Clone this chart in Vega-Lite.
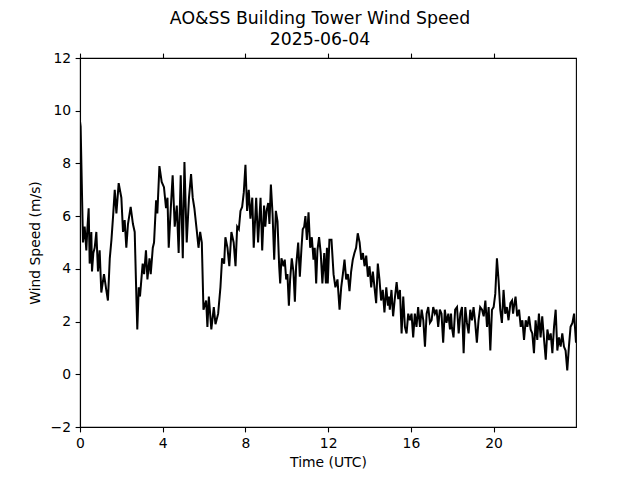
{
  "$schema": "https://vega.github.io/schema/vega-lite/v6.json",
  "width": 496,
  "height": 369,
  "autosize": {"type": "none"},
  "padding": {"left": 80, "top": 58, "right": 64, "bottom": 53},
  "background": "white",
  "config": {
    "font": "DejaVu Sans",
    "view": {"stroke": "black", "strokeWidth": 1.1},
    "axis": {
      "grid": false,
      "domainColor": "black",
      "domainWidth": 1.1,
      "tickColor": "black",
      "tickWidth": 1.1,
      "tickSize": 4.9,
      "labelPadding": 4.5,
      "labelFontSize": 13.9,
      "labelColor": "black",
      "labelFont": "DejaVu Sans",
      "titleFont": "DejaVu Sans",
      "titleFontSize": 13.9,
      "titleFontWeight": "normal",
      "titleColor": "black"
    }
  },
  "title": {
    "text": ["AO&SS Building Tower Wind Speed", "2025-06-04"],
    "font": "DejaVu Sans",
    "fontSize": 17.3,
    "fontWeight": "normal",
    "color": "black",
    "anchor": "middle",
    "dx": -8,
    "lineHeight": 20.5,
    "offset": 3
  },
  "data": {
    "values": [
      {"t": 0.0, "v": 9.6}, {"t": 0.03, "v": 9.4}, {"t": 0.145, "v": 5.0}, {"t": 0.226, "v": 5.6}, {"t": 0.306, "v": 4.7},
      {"t": 0.355, "v": 5.5}, {"t": 0.419, "v": 6.3}, {"t": 0.468, "v": 4.2}, {"t": 0.548, "v": 5.4}, {"t": 0.58, "v": 3.9},
      {"t": 0.645, "v": 4.6}, {"t": 0.71, "v": 4.8}, {"t": 0.79, "v": 5.4}, {"t": 0.87, "v": 3.9}, {"t": 0.95, "v": 4.7},
      {"t": 1.03, "v": 3.1}, {"t": 1.16, "v": 3.8}, {"t": 1.27, "v": 3.2}, {"t": 1.35, "v": 2.8}, {"t": 1.44, "v": 4.4},
      {"t": 1.52, "v": 5.1}, {"t": 1.6, "v": 6.0}, {"t": 1.68, "v": 7.0}, {"t": 1.76, "v": 6.1}, {"t": 1.87, "v": 7.25},
      {"t": 2.0, "v": 6.7}, {"t": 2.08, "v": 5.4}, {"t": 2.16, "v": 5.85}, {"t": 2.24, "v": 4.8}, {"t": 2.32, "v": 5.7},
      {"t": 2.45, "v": 6.35}, {"t": 2.56, "v": 5.7}, {"t": 2.645, "v": 5.4}, {"t": 2.73, "v": 2.8}, {"t": 2.77, "v": 1.7},
      {"t": 2.84, "v": 3.3}, {"t": 2.9, "v": 2.95}, {"t": 3.03, "v": 4.2}, {"t": 3.1, "v": 3.8}, {"t": 3.19, "v": 4.7},
      {"t": 3.26, "v": 3.6}, {"t": 3.36, "v": 4.4}, {"t": 3.42, "v": 3.8}, {"t": 3.52, "v": 4.8}, {"t": 3.58, "v": 5.0},
      {"t": 3.68, "v": 6.6}, {"t": 3.74, "v": 6.1}, {"t": 3.84, "v": 7.9}, {"t": 3.95, "v": 7.3}, {"t": 4.06, "v": 7.1},
      {"t": 4.16, "v": 6.3}, {"t": 4.23, "v": 6.7}, {"t": 4.29, "v": 4.8}, {"t": 4.39, "v": 6.3}, {"t": 4.48, "v": 7.55},
      {"t": 4.58, "v": 5.6}, {"t": 4.68, "v": 6.4}, {"t": 4.77, "v": 4.6}, {"t": 4.87, "v": 7.55}, {"t": 4.97, "v": 4.4},
      {"t": 5.05, "v": 8.05}, {"t": 5.16, "v": 5.0}, {"t": 5.27, "v": 6.7}, {"t": 5.37, "v": 7.6}, {"t": 5.45, "v": 6.7},
      {"t": 5.53, "v": 6.3}, {"t": 5.64, "v": 5.5}, {"t": 5.73, "v": 4.8}, {"t": 5.81, "v": 5.4}, {"t": 5.89, "v": 5.0},
      {"t": 5.97, "v": 2.45}, {"t": 6.1, "v": 2.8}, {"t": 6.16, "v": 1.8}, {"t": 6.23, "v": 2.95}, {"t": 6.35, "v": 1.7},
      {"t": 6.47, "v": 2.55}, {"t": 6.55, "v": 1.9}, {"t": 6.68, "v": 2.3}, {"t": 6.79, "v": 3.3}, {"t": 6.87, "v": 4.4},
      {"t": 6.97, "v": 4.2}, {"t": 7.03, "v": 5.2}, {"t": 7.13, "v": 4.8}, {"t": 7.22, "v": 4.1}, {"t": 7.32, "v": 5.4},
      {"t": 7.43, "v": 5.0}, {"t": 7.52, "v": 4.1}, {"t": 7.6, "v": 5.6}, {"t": 7.68, "v": 5.5}, {"t": 7.76, "v": 6.2},
      {"t": 7.84, "v": 6.35}, {"t": 7.92, "v": 6.9}, {"t": 8.0, "v": 7.95}, {"t": 8.08, "v": 6.2}, {"t": 8.16, "v": 7.0},
      {"t": 8.24, "v": 5.9}, {"t": 8.33, "v": 6.7}, {"t": 8.4, "v": 4.8}, {"t": 8.52, "v": 6.7}, {"t": 8.61, "v": 5.0},
      {"t": 8.73, "v": 6.7}, {"t": 8.81, "v": 4.7}, {"t": 8.9, "v": 6.4}, {"t": 8.96, "v": 5.6}, {"t": 9.02, "v": 6.2},
      {"t": 9.1, "v": 6.5}, {"t": 9.16, "v": 5.7}, {"t": 9.23, "v": 7.2}, {"t": 9.31, "v": 6.1}, {"t": 9.39, "v": 4.35},
      {"t": 9.47, "v": 6.2}, {"t": 9.55, "v": 5.8}, {"t": 9.63, "v": 4.1}, {"t": 9.68, "v": 3.45}, {"t": 9.74, "v": 4.4},
      {"t": 9.84, "v": 4.1}, {"t": 9.9, "v": 4.35}, {"t": 9.97, "v": 3.6}, {"t": 10.03, "v": 3.8}, {"t": 10.1, "v": 2.6},
      {"t": 10.16, "v": 3.6}, {"t": 10.24, "v": 4.4}, {"t": 10.32, "v": 3.9}, {"t": 10.39, "v": 2.75}, {"t": 10.45, "v": 4.1},
      {"t": 10.55, "v": 5.0}, {"t": 10.63, "v": 3.7}, {"t": 10.71, "v": 4.8}, {"t": 10.77, "v": 5.5}, {"t": 10.84, "v": 5.6},
      {"t": 10.9, "v": 6.0}, {"t": 10.97, "v": 5.1}, {"t": 11.05, "v": 6.15}, {"t": 11.13, "v": 4.8}, {"t": 11.21, "v": 5.2},
      {"t": 11.29, "v": 4.35}, {"t": 11.35, "v": 4.8}, {"t": 11.42, "v": 3.45}, {"t": 11.48, "v": 4.7}, {"t": 11.56, "v": 5.2},
      {"t": 11.64, "v": 4.6}, {"t": 11.72, "v": 3.45}, {"t": 11.81, "v": 4.6}, {"t": 11.89, "v": 3.45}, {"t": 11.94, "v": 4.8},
      {"t": 11.98, "v": 3.45}, {"t": 12.06, "v": 5.1}, {"t": 12.16, "v": 5.1}, {"t": 12.26, "v": 3.8}, {"t": 12.35, "v": 3.3},
      {"t": 12.45, "v": 3.6}, {"t": 12.55, "v": 2.45}, {"t": 12.63, "v": 3.3}, {"t": 12.71, "v": 3.8}, {"t": 12.79, "v": 4.35},
      {"t": 12.87, "v": 3.6}, {"t": 12.95, "v": 3.8}, {"t": 13.03, "v": 3.15}, {"t": 13.11, "v": 3.9}, {"t": 13.19, "v": 4.35},
      {"t": 13.27, "v": 4.6}, {"t": 13.35, "v": 4.8}, {"t": 13.43, "v": 5.35}, {"t": 13.52, "v": 5.0}, {"t": 13.6, "v": 4.35},
      {"t": 13.68, "v": 4.6}, {"t": 13.76, "v": 4.1}, {"t": 13.84, "v": 4.5}, {"t": 13.92, "v": 3.7}, {"t": 14.0, "v": 4.1},
      {"t": 14.08, "v": 3.3}, {"t": 14.16, "v": 3.9}, {"t": 14.24, "v": 3.3}, {"t": 14.32, "v": 2.7}, {"t": 14.4, "v": 4.2},
      {"t": 14.48, "v": 3.6}, {"t": 14.56, "v": 2.8}, {"t": 14.64, "v": 3.2}, {"t": 14.72, "v": 2.35}, {"t": 14.81, "v": 3.3},
      {"t": 14.89, "v": 2.6}, {"t": 14.94, "v": 2.95}, {"t": 14.98, "v": 2.45}, {"t": 15.06, "v": 3.2}, {"t": 15.14, "v": 2.2},
      {"t": 15.22, "v": 2.85}, {"t": 15.31, "v": 3.5}, {"t": 15.39, "v": 2.85}, {"t": 15.47, "v": 3.2}, {"t": 15.55, "v": 1.55},
      {"t": 15.63, "v": 2.95}, {"t": 15.71, "v": 1.8}, {"t": 15.79, "v": 1.55}, {"t": 15.87, "v": 2.3}, {"t": 15.95, "v": 2.05},
      {"t": 16.03, "v": 2.3}, {"t": 16.11, "v": 1.4}, {"t": 16.19, "v": 2.3}, {"t": 16.27, "v": 1.8}, {"t": 16.35, "v": 2.55},
      {"t": 16.44, "v": 1.8}, {"t": 16.52, "v": 2.45}, {"t": 16.6, "v": 2.05}, {"t": 16.68, "v": 1.05}, {"t": 16.76, "v": 2.3},
      {"t": 16.84, "v": 2.55}, {"t": 16.92, "v": 1.95}, {"t": 17.0, "v": 2.05}, {"t": 17.08, "v": 2.55}, {"t": 17.16, "v": 2.3},
      {"t": 17.24, "v": 2.45}, {"t": 17.32, "v": 1.8}, {"t": 17.4, "v": 2.45}, {"t": 17.48, "v": 2.3}, {"t": 17.56, "v": 1.2},
      {"t": 17.64, "v": 2.45}, {"t": 17.72, "v": 1.95}, {"t": 17.81, "v": 2.3}, {"t": 17.89, "v": 1.7}, {"t": 17.94, "v": 2.3},
      {"t": 17.98, "v": 1.8}, {"t": 18.06, "v": 1.4}, {"t": 18.14, "v": 2.45}, {"t": 18.23, "v": 2.55}, {"t": 18.31, "v": 1.55},
      {"t": 18.39, "v": 2.3}, {"t": 18.47, "v": 2.55}, {"t": 18.55, "v": 0.8}, {"t": 18.63, "v": 2.55}, {"t": 18.71, "v": 1.95},
      {"t": 18.79, "v": 1.55}, {"t": 18.87, "v": 2.45}, {"t": 18.95, "v": 2.05}, {"t": 19.03, "v": 2.55}, {"t": 19.11, "v": 1.95},
      {"t": 19.19, "v": 1.2}, {"t": 19.27, "v": 2.05}, {"t": 19.35, "v": 2.55}, {"t": 19.44, "v": 2.45}, {"t": 19.52, "v": 2.2},
      {"t": 19.6, "v": 2.8}, {"t": 19.68, "v": 1.8}, {"t": 19.76, "v": 2.55}, {"t": 19.84, "v": 0.9}, {"t": 19.92, "v": 2.45},
      {"t": 20.0, "v": 2.55}, {"t": 20.08, "v": 3.05}, {"t": 20.16, "v": 4.4}, {"t": 20.24, "v": 3.55}, {"t": 20.32, "v": 2.45},
      {"t": 20.4, "v": 1.95}, {"t": 20.48, "v": 3.2}, {"t": 20.56, "v": 2.3}, {"t": 20.64, "v": 2.55}, {"t": 20.72, "v": 2.05},
      {"t": 20.81, "v": 2.7}, {"t": 20.89, "v": 2.8}, {"t": 20.94, "v": 2.3}, {"t": 20.98, "v": 2.55}, {"t": 21.06, "v": 2.95},
      {"t": 21.14, "v": 2.2}, {"t": 21.23, "v": 2.45}, {"t": 21.31, "v": 1.8}, {"t": 21.39, "v": 2.05}, {"t": 21.47, "v": 1.3},
      {"t": 21.55, "v": 2.05}, {"t": 21.63, "v": 1.8}, {"t": 21.71, "v": 2.2}, {"t": 21.79, "v": 1.7}, {"t": 21.87, "v": 1.55},
      {"t": 21.95, "v": 0.8}, {"t": 22.03, "v": 2.05}, {"t": 22.11, "v": 1.3}, {"t": 22.19, "v": 2.3}, {"t": 22.27, "v": 1.4},
      {"t": 22.35, "v": 2.2}, {"t": 22.44, "v": 1.3}, {"t": 22.52, "v": 0.55}, {"t": 22.6, "v": 1.7}, {"t": 22.68, "v": 1.3},
      {"t": 22.76, "v": 1.55}, {"t": 22.84, "v": 0.8}, {"t": 22.92, "v": 1.8}, {"t": 23.0, "v": 2.45}, {"t": 23.08, "v": 0.9},
      {"t": 23.16, "v": 1.4}, {"t": 23.24, "v": 1.05}, {"t": 23.32, "v": 1.55}, {"t": 23.4, "v": 1.05}, {"t": 23.48, "v": 0.9},
      {"t": 23.56, "v": 0.15}, {"t": 23.64, "v": 1.05}, {"t": 23.72, "v": 1.8}, {"t": 23.81, "v": 1.95}, {"t": 23.89, "v": 2.3},
      {"t": 23.983, "v": 1.2}
    ]
  },
  "resolve": {"axis": {"x": "independent"}},
  "layer": [
    {
      "mark": {"type": "line", "color": "black", "strokeWidth": 2, "clip": true},
      "encoding": {
        "x": {
          "field": "t",
          "type": "quantitative",
          "scale": {"domain": [0, 23.983], "nice": false, "zero": false},
          "axis": {"orient": "bottom", "title": "Time (UTC)", "values": [0, 4, 8, 12, 16, 20], "titlePadding": 5, "labelFlush": false}
        },
        "y": {
          "field": "v",
          "type": "quantitative",
          "scale": {"domain": [-2, 12], "nice": false, "zero": false},
          "axis": {
            "title": "Wind Speed (m/s)",
            "values": [-2, 0, 2, 4, 6, 8, 10, 12],
            "labelExpr": "replace(datum.label, '-', '\u2212')",
            "titlePadding": 8,
            "labelFlush": false
          }
        }
      }
    },
    {
      "mark": {"type": "line", "opacity": 0, "clip": true},
      "encoding": {
        "x": {
          "field": "t",
          "type": "quantitative",
          "axis": {"orient": "top", "title": null, "labels": false, "values": [0, 4, 8, 12, 16, 20]}
        },
        "y": {"field": "v", "type": "quantitative"}
      }
    }
  ]
}
